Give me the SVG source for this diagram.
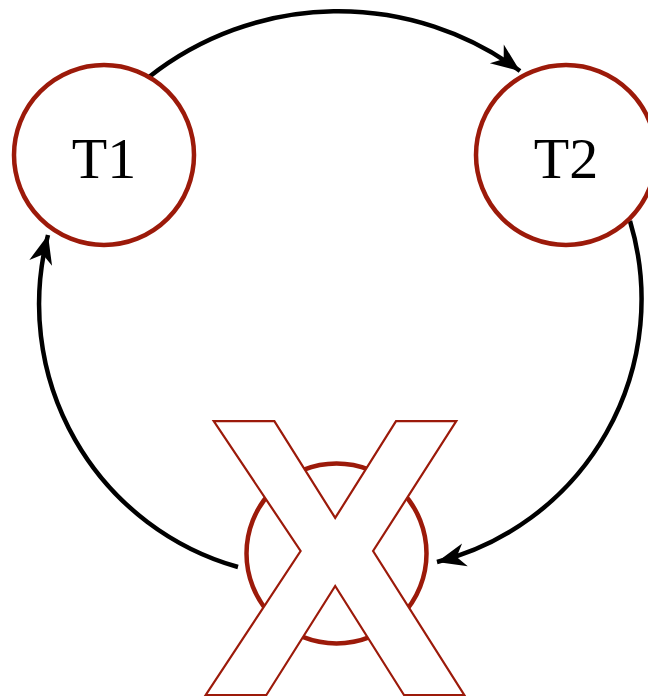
<svg xmlns="http://www.w3.org/2000/svg" width="648" height="699" viewBox="0 0 648 699">
  <style>
    .node { fill: #ffffff; stroke: #9c1a0a; stroke-width: 4.5; }
    .label { font-family: "Liberation Serif", "DejaVu Serif", serif; font-size: 58px; fill: #000000; text-anchor: middle; }
    .edge { fill: none; stroke: #000000; stroke-width: 4.5; marker-end: url(#head); }
    .cross { font-family: "Liberation Sans", Arial, sans-serif; font-weight: bold; font-size: 398px; fill: #ffffff; stroke: #9c1a0a; stroke-width: 2.2; text-anchor: middle; }
  </style>
  <defs>
    <marker id="head" markerUnits="userSpaceOnUse" markerWidth="32" markerHeight="32" viewBox="-28 -13 30 26" refX="0" refY="0" orient="auto">
      <path d="M0,0 L-27,-11 L-19,0 L-27,11 Z" fill="#000000"/>
    </marker>
  </defs>

  <g id="connectors">
    <path class="edge" d="M149,77 A306,306 0 0 1 520,71"/>
    <path class="edge" d="M630,221 A271,271 0 0 1 437,562"/>
    <path class="edge" d="M238,567 A273,273 0 0 1 48,235"/>
  </g>

  <g id="t1">
    <circle class="node" cx="104" cy="155" r="90"/>
    <text class="label" x="104" y="178">T1</text>
  </g>

  <g id="t2">
    <circle class="node" cx="566" cy="155" r="90"/>
    <text class="label" x="566" y="178">T2</text>
  </g>

  <g id="blocked">
    <circle class="node" cx="336.5" cy="553.5" r="90"/>
    <text class="cross" x="335" y="695">X</text>
  </g>
</svg>
